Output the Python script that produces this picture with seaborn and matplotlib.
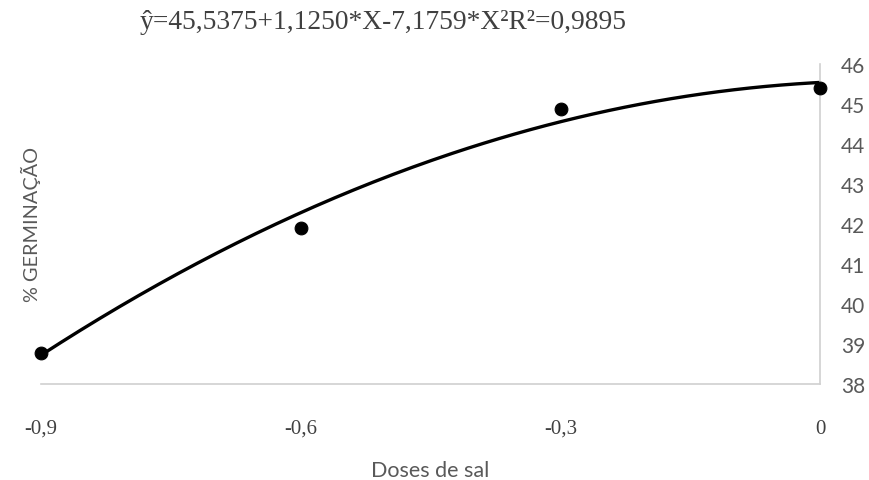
import numpy as np
import pandas as pd
import seaborn as sns
import matplotlib.pyplot as plt

# dados
doses = [-0.9, -0.6, -0.3, 0.0]
germinacao = [38.78, 41.9, 44.88, 45.4]

# coeficientes da equação mostrada no título
coef = [45.5375, 1.1250, -7.1759]
titulo = 'ŷ=45,5375+1,1250*X-7,1759*X²R²=0,9895'

x_ticks = [-0.9, -0.6, -0.3, 0.0]
x_labels = ['-0,9', '-0,6', '-0,3', '0']
y_ticks = list(range(38, 47))

sns.set_style('white')

pontos = pd.DataFrame({'dose': doses, 'germ': germinacao})
xs = np.linspace(-0.9, 0, 200)
curva = pd.DataFrame({'dose': xs, 'germ': coef[0] + coef[1] * xs + coef[2] * xs ** 2})

fig = plt.figure(figsize=(8.69, 4.81), dpi=100)
ax = fig.add_axes([0.047, 0.2, 0.897, 0.665])

sns.lineplot(data=curva, x='dose', y='germ', color='black', linewidth=2.4, ax=ax)
sns.scatterplot(data=pontos, x='dose', y='germ', color='black', s=85, edgecolor='black', zorder=3, ax=ax, clip_on=False)

ax.set_xlim(-0.9, 0)
ax.set_ylim(38, 46)
ax.set_xticks(x_ticks)
ax.set_xticklabels(x_labels, fontfamily='Liberation Serif', fontsize=15, color='#404040')
ax.set_yticks(y_ticks)
ax.yaxis.tick_right()
ax.yaxis.set_label_position('left')
for lab in ax.get_yticklabels():
    lab.set_fontfamily('Lato')
    lab.set_fontsize(15)
    lab.set_color('#595959')
ax.tick_params(axis='both', length=0)
ax.tick_params(axis='x', pad=25)
ax.tick_params(axis='y', pad=15)

for s in ['left', 'top']:
    ax.spines[s].set_visible(False)
for s in ['right', 'bottom']:
    ax.spines[s].set_color('#d0d0d0')
    ax.spines[s].set_linewidth(1.2)

ax.set_xlabel('Doses de sal', fontfamily='Lato', fontsize=15.5, color='#595959', labelpad=16)
ax.set_ylabel('% GERMINAÇÃO', fontfamily='Lato', fontsize=14.3, color='#595959', labelpad=0)

fig.text(0.161, 0.954, titulo, fontfamily='Liberation Serif', fontsize=19.8, color='#404040', va='center')

fig.savefig('out.png', dpi=100)
